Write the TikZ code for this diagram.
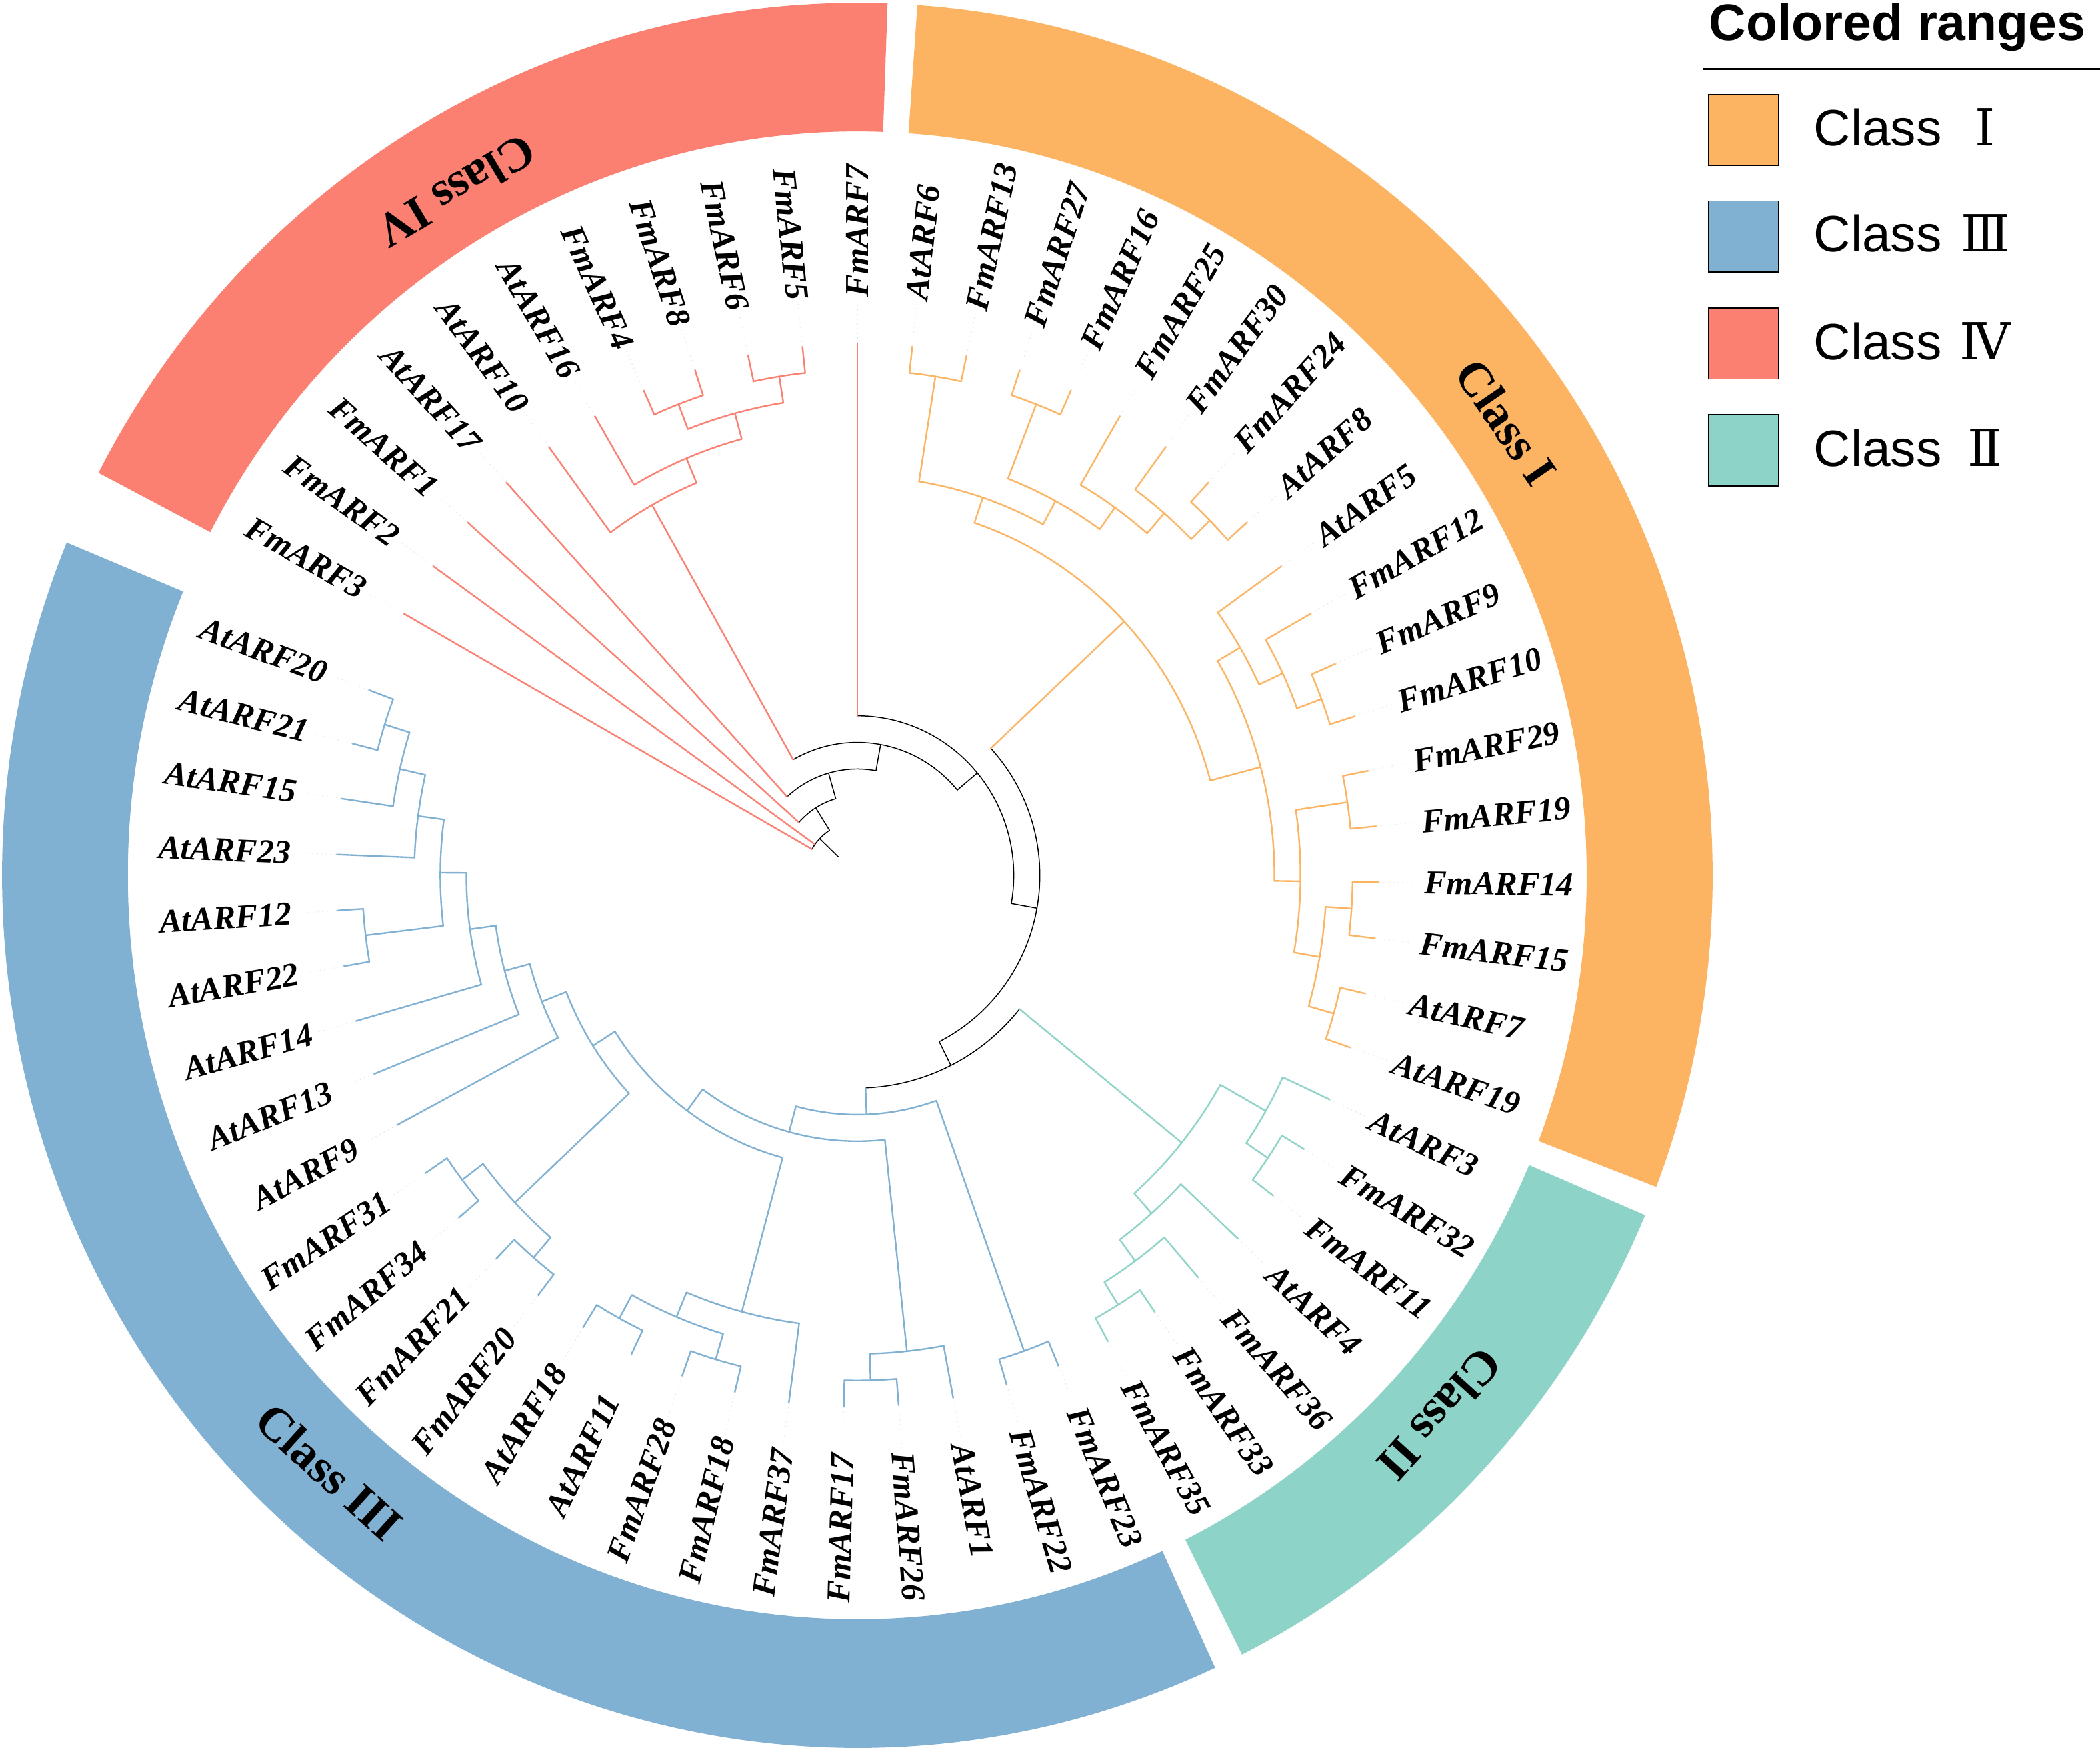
\documentclass[tikz,border=0pt]{standalone}
\usepackage{fontspec}
\setmainfont{Liberation Serif}
\newfontfamily\legfont{Liberation Sans}
\newfontfamily\numfont{DejaVu Serif}
\definecolor{cI}{HTML}{FDB462}
\definecolor{cII}{HTML}{8DD3C7}
\definecolor{cIII}{HTML}{80B1D3}
\definecolor{cIV}{HTML}{FB8072}
\def\U{39.1}
\newcommand\Rad[5]{\coordinate (#1) at (#3:{#5*\U});\draw[#2] (#3:{#4*\U}) -- (#1);}
\newcommand\Arc[4]{\draw[#1] (#2:{#4*\U}) arc[start angle=#2,end angle=#3,radius={#4*\U}];}
\newcommand\Leaf[4]{%
  \pgfmathsetmacro\lang{90-6.05*(#1)}%
  \coordinate (tip#1) at (\lang:{20*\U});%
  \draw[#2] (\lang:{#3*\U}) -- (tip#1);%
  \draw[leader] (tip#1) -- (\lang:845);%
  \def\lside{R}%
  \ifnum#1<0 \def\lside{L}\fi
  \ifnum#1>29 \def\lside{L}\fi
  \if L\lside
    \pgfmathsetmacro\lrot{\lang-180}%
    \node[lbl,anchor=east,rotate=\lrot] (#4) at (\lang:850) {#4};%
  \else
    \node[lbl,anchor=west,rotate=\lang] (#4) at (\lang:850) {#4};%
  \fi}
\newcommand\Ring[3]{\fill[#1] (#2:1094) arc[start angle=#2,end angle=#3,radius=1094] -- (#3:1283) arc[start angle=#3,end angle=#2,radius=1283] -- cycle;}
\tikzset{
 blk/.style={draw=black,line width=0.42pt,line cap=round},
 sI/.style={draw=cI,line width=0.68pt,line cap=round},
 sII/.style={draw=cII,line width=0.68pt,line cap=round},
 sIII/.style={draw=cIII,line width=0.68pt,line cap=round},
 sIV/.style={draw=cIV,line width=0.68pt,line cap=round},
 leader/.style={draw=black!9,line width=0.3pt,dash pattern=on 0.5pt off 1.5pt},
 lbl/.style={inner sep=0pt,font=\fontsize{14.3}{15}\selectfont\bfseries\itshape},
 cls/.style={inner sep=0pt,font=\fontsize{20.5}{22}\selectfont\bfseries},
 legtxt/.style={anchor=base west,inner sep=0pt,font=\legfont\fontsize{21.8}{24}\selectfont},
 legnum/.style={anchor=base,inner sep=0pt,font=\numfont\fontsize{21.8}{24}\selectfont},
 legbox/.style={draw=black,line width=0.5pt},
}
\begin{document}
\begin{tikzpicture}[x=0.01cm,y=0.01cm,yscale=1.02]
\useasboundingbox (-1286,-1289.2) rectangle (1864,1287.25);
% coloured ranges
\Ring{cIV}{87.975}{152.525}
\Ring{cI}{-20.925}{85.975}
\Ring{cII}{-63.275}{-22.925}
\Ring{cIII}{-202.425}{-65.275}
\node[cls,rotate=-55.6] (labI) at (34.4:1180) {Class I};
\node[cls,rotate=-132.2] (labII) at (-42.2:1180) {Class II};
\node[cls,rotate=-42.1] (labIII) at (-132.1:1182) {Class III};
\node[cls,rotate=210.9] (labIV) at (120.9:1172) {Class IV};
% backbone and class IV
\Rad{root}{blk}{136.357}{1}{2}
\Arc{blk}{150.5}{122.214}{2}
\Leaf{-10}{sIV}{2}{FmARF3}
\Leaf{-9}{sIV}{2}{FmARF2}
\Rad{N1}{blk}{122.214}{2}{3}
\Arc{blk}{138.4}{106.028}{3}
\Leaf{-8}{sIV}{3}{FmARF1}
\Rad{N2}{blk}{106.028}{3}{4}
\Arc{blk}{132.35}{79.706}{4}
\Leaf{-7}{sIV}{4}{AtARF17}
\Rad{N3}{blk}{79.706}{4}{5}
\Arc{blk}{119.494}{39.918}{5}
\Rad{N4}{sIV}{119.494}{5}{16}
\Arc{sIV}{126.3}{112.6875}{16}
\Leaf{-6}{sIV}{16}{AtARF10}
\Rad{N5}{sIV}{112.6875}{16}{17}
\Arc{sIV}{120.25}{105.125}{17}
\Leaf{-5}{sIV}{17}{AtARF16}
\Rad{N6}{sIV}{105.125}{17}{18}
\Arc{sIV}{111.175}{99.075}{18}
\Rad{N7}{sIV}{111.175}{18}{19}
\Arc{sIV}{114.2}{108.15}{19}
\Leaf{-4}{sIV}{19}{FmARF4}
\Leaf{-3}{sIV}{19}{FmARF8}
\Rad{N8}{sIV}{99.075}{18}{19}
\Arc{sIV}{102.1}{96.05}{19}
\Leaf{-2}{sIV}{19}{FmARF6}
\Leaf{-1}{sIV}{19}{FmARF5}
\Rad{B}{blk}{39.918}{5}{6}
\Arc{blk}{90}{-10.1637}{6}
\Leaf{0}{sIV}{6}{FmARF7}
\Rad{D}{blk}{-10.1637}{6}{7}
\Arc{blk}{43.018}{-63.3453}{7}
\Rad{E}{blk}{-63.3453}{7}{8}
\Arc{blk}{-38.9406}{-87.75}{8}
% class I
\Rad{I0}{sI}{43.018}{7}{14}
\Arc{sI}{71.2828}{14.753}{14}
\Rad{I1}{sI}{71.2828}{14}{15}
\Arc{sI}{80.925}{61.6406}{15}
\Rad{I3}{sI}{80.925}{15}{19}
\Arc{sI}{83.95}{77.9}{19}
\Leaf{1}{sI}{19}{AtARF6}
\Leaf{2}{sI}{19}{FmARF13}
\Rad{I4}{sI}{61.6406}{15}{16}
\Arc{sI}{68.825}{54.4563}{16}
\Rad{I5}{sI}{68.825}{16}{19}
\Arc{sI}{71.85}{65.8}{19}
\Leaf{3}{sI}{19}{FmARF27}
\Leaf{4}{sI}{19}{FmARF16}
\Rad{I6}{sI}{54.4563}{16}{17}
\Arc{sI}{59.75}{49.1625}{17}
\Leaf{5}{sI}{17}{FmARF25}
\Rad{I7}{sI}{49.1625}{17}{18}
\Arc{sI}{53.7}{44.625}{18}
\Leaf{6}{sI}{18}{FmARF30}
\Rad{I8}{sI}{44.625}{18}{19}
\Arc{sI}{47.65}{41.6}{19}
\Leaf{7}{sI}{19}{FmARF24}
\Leaf{8}{sI}{19}{AtARF8}
\Rad{I2}{sI}{14.753}{14}{16}
\Arc{sI}{30.2563}{-0.75}{16}
\Rad{I9}{sI}{30.2563}{16}{17}
\Arc{sI}{35.55}{24.9625}{17}
\Leaf{9}{sI}{17}{AtARF5}
\Rad{I11}{sI}{24.9625}{17}{18}
\Arc{sI}{29.5}{20.425}{18}
\Leaf{10}{sI}{18}{FmARF12}
\Rad{I12}{sI}{20.425}{18}{19}
\Arc{sI}{23.45}{17.4}{19}
\Leaf{11}{sI}{19}{FmARF9}
\Leaf{12}{sI}{19}{FmARF10}
\Rad{I10}{sI}{-0.75}{16}{17}
\Arc{sI}{8.325}{-9.825}{17}
\Rad{I13}{sI}{8.325}{17}{19}
\Arc{sI}{11.35}{5.3}{19}
\Leaf{13}{sI}{19}{FmARF29}
\Leaf{14}{sI}{19}{FmARF19}
\Rad{I14}{sI}{-9.825}{17}{18}
\Arc{sI}{-3.775}{-15.875}{18}
\Rad{I15}{sI}{-3.775}{18}{19}
\Arc{sI}{-0.75}{-6.8}{19}
\Leaf{15}{sI}{19}{FmARF14}
\Leaf{16}{sI}{19}{FmARF15}
\Rad{I16}{sI}{-15.875}{18}{19}
\Arc{sI}{-12.85}{-18.9}{19}
\Leaf{17}{sI}{19}{AtARF7}
\Leaf{18}{sI}{19}{AtARF19}
% class II
\Rad{II0}{sII}{-38.9406}{8}{16}
\Arc{sII}{-29.4875}{-48.3938}{16}
\Rad{II1}{sII}{-29.4875}{16}{18}
\Arc{sII}{-24.95}{-34.025}{18}
\Leaf{19}{sII}{18}{AtARF3}
\Rad{II2}{sII}{-34.025}{18}{19}
\Arc{sII}{-31}{-37.05}{19}
\Leaf{20}{sII}{19}{FmARF32}
\Leaf{21}{sII}{19}{FmARF11}
\Rad{II3}{sII}{-48.3938}{16}{17}
\Arc{sII}{-43.1}{-53.6875}{17}
\Leaf{22}{sII}{17}{AtARF4}
\Rad{II4}{sII}{-53.6875}{17}{18}
\Arc{sII}{-49.15}{-58.225}{18}
\Leaf{23}{sII}{18}{FmARF36}
\Rad{II5}{sII}{-58.225}{18}{19}
\Arc{sII}{-55.2}{-61.25}{19}
\Leaf{24}{sII}{19}{FmARF33}
\Leaf{25}{sII}{19}{FmARF35}
% class III
\Rad{III0}{sIII}{-87.75}{8}{9}
\Arc{sIII}{-70.325}{-105.1775}{9}
\Rad{III2}{sIII}{-70.325}{9}{19}
\Arc{sIII}{-67.3}{-73.35}{19}
\Leaf{26}{sIII}{19}{FmARF23}
\Leaf{27}{sIII}{19}{FmARF22}
\Rad{III1}{sIII}{-105.1775}{9}{10}
\Arc{sIII}{-83.9375}{-126.4175}{10}
\Rad{Y}{sIII}{-83.9375}{10}{18}
\Arc{sIII}{-79.4}{-88.475}{18}
\Leaf{28}{sIII}{18}{AtARF1}
\Rad{Y1}{sIII}{-88.475}{18}{19}
\Arc{sIII}{-85.45}{-91.5}{19}
\Leaf{29}{sIII}{19}{FmARF26}
\Leaf{30}{sIII}{19}{FmARF17}
\Rad{III3}{sIII}{-126.4175}{10}{11}
\Arc{sIII}{-105.1125}{-147.7225}{11}
\Rad{X}{sIII}{-105.1125}{11}{17}
\Arc{sIII}{-97.55}{-112.675}{17}
\Leaf{31}{sIII}{17}{FmARF37}
\Rad{X1}{sIII}{-112.675}{17}{18}
\Arc{sIII}{-106.625}{-118.725}{18}
\Rad{X3}{sIII}{-106.625}{18}{19}
\Arc{sIII}{-103.6}{-109.65}{19}
\Leaf{32}{sIII}{19}{FmARF18}
\Leaf{33}{sIII}{19}{FmARF28}
\Rad{X2}{sIII}{-118.725}{18}{19}
\Arc{sIII}{-115.7}{-121.75}{19}
\Leaf{34}{sIII}{19}{AtARF11}
\Leaf{35}{sIII}{19}{AtARF18}
\Rad{L12}{sIII}{-147.7225}{11}{12}
\Arc{sIII}{-136.875}{-158.5699}{12}
\Rad{C}{sIII}{-136.875}{12}{18}
\Arc{sIII}{-130.825}{-142.925}{18}
\Rad{C2}{sIII}{-130.825}{18}{19}
\Arc{sIII}{-127.8}{-133.85}{19}
\Leaf{36}{sIII}{19}{FmARF20}
\Leaf{37}{sIII}{19}{FmARF21}
\Rad{C1}{sIII}{-142.925}{18}{19}
\Arc{sIII}{-139.9}{-145.95}{19}
\Leaf{38}{sIII}{19}{FmARF34}
\Leaf{39}{sIII}{19}{FmARF31}
\Rad{L13}{sIII}{-158.5699}{12}{13}
\Arc{sIII}{-152}{-165.1398}{13}
\Leaf{40}{sIII}{13}{AtARF9}
\Rad{L14}{sIII}{-165.1398}{13}{14}
\Arc{sIII}{-158.05}{-172.2297}{14}
\Leaf{41}{sIII}{14}{AtARF13}
\Rad{L15}{sIII}{-172.2297}{14}{15}
\Arc{sIII}{-164.1}{-180.359}{15}
\Leaf{42}{sIII}{15}{AtARF14}
\Rad{L16}{sIII}{-180.359}{15}{16}
\Arc{sIII}{-173.175}{-187.5438}{16}
\Rad{P}{sIII}{-173.175}{16}{19}
\Arc{sIII}{-170.15}{-176.2}{19}
\Leaf{43}{sIII}{19}{AtARF22}
\Leaf{44}{sIII}{19}{AtARF12}
\Rad{L17}{sIII}{-187.5438}{16}{17}
\Arc{sIII}{-182.25}{-192.8375}{17}
\Leaf{45}{sIII}{17}{AtARF23}
\Rad{L18}{sIII}{-192.8375}{17}{18}
\Arc{sIII}{-188.3}{-197.375}{18}
\Leaf{46}{sIII}{18}{AtARF15}
\Rad{Q}{sIII}{-197.375}{18}{19}
\Arc{sIII}{-194.35}{-200.4}{19}
\Leaf{47}{sIII}{19}{AtARF21}
\Leaf{48}{sIII}{19}{AtARF20}
% legend
\node[anchor=base west,inner sep=0pt,font=\legfont\fontsize{21.9}{24}\selectfont\bfseries] (legtitle) at (1277,1227.8) {Colored ranges};
\draw[line width=0.6pt] (1268,1185.8) -- (1864,1185.8);
\draw[legbox,fill=cI] (1277,1044.1) rectangle (1382,1148.5);
\draw[legbox,fill=cIII] (1277,887.3) rectangle (1382,991.7);
\draw[legbox,fill=cIV] (1277,729.8) rectangle (1382,834.3);
\draw[legbox,fill=cII] (1277,572.9) rectangle (1382,677.5);
\node[legtxt] (lt1) at (1434,1073.5) {Class};
\node[legtxt] (lt2) at (1434,916.7) {Class};
\node[legtxt] (lt3) at (1434,758.8) {Class};
\node[legtxt] (lt4) at (1434,601.5) {Class};
\node[legnum] (ln1) at (1692,1073.5) {Ⅰ};
\node[legnum] (ln2) at (1692,916.7) {Ⅲ};
\node[legnum] (ln3) at (1692,758.8) {Ⅳ};
\node[legnum] (ln4) at (1692,601.5) {Ⅱ};
\end{tikzpicture}
\end{document}
